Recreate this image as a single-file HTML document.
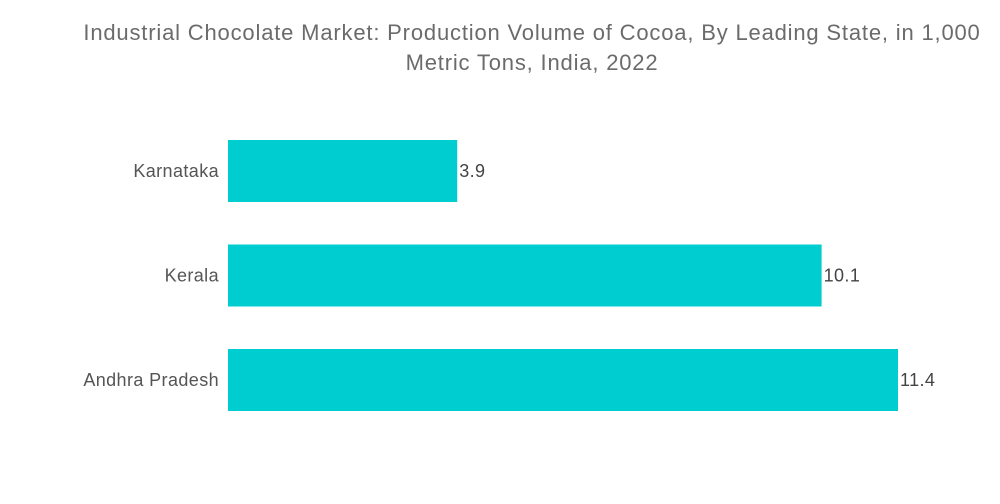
<!DOCTYPE html>
<html><head><meta charset="utf-8"><style>
body{margin:0;background:#fff;width:1000px;height:504px;overflow:hidden;font-family:"Liberation Sans",sans-serif;}
.title{position:absolute;left:32px;width:1000px;top:18px;text-align:center;font-size:22px;letter-spacing:0.82px;line-height:30px;color:#6b6b6b;}
</style></head><body>
<div class="title">Industrial Chocolate Market: Production Volume of Cocoa, By Leading State, in 1,000<br>Metric Tons, India, 2022</div>
<svg id="chart" width="1000" height="504" style="position:absolute;left:0;top:0"></svg>
<script>
const categories=["Karnataka","Kerala","Andhra Pradesh"];
const values=[3.9,10.1,11.4];
const labels=["3.9","10.1","11.4"];
const svg=document.getElementById('chart');
const NS='http://www.w3.org/2000/svg';
const x0=228, pxPerUnit=670/11.4;
const xScale=v=>x0+v*pxPerUnit;
const bh=62;
const yScale=i=>140+i*104.5;
categories.forEach((c,i)=>{
  const y=yScale(i);
  const r=document.createElementNS(NS,'rect');
  r.setAttribute('x',x0);r.setAttribute('y',y);r.setAttribute('width',xScale(values[i])-x0);r.setAttribute('height',bh);r.setAttribute('fill','#00cdd0');
  
  
  svg.appendChild(r);
  const t=document.createElementNS(NS,'text');
  t.setAttribute('x',219);t.setAttribute('y',y+bh/2+6);t.setAttribute('text-anchor','end');t.setAttribute('font-size','18');t.setAttribute('letter-spacing','0.4');t.setAttribute('fill','#555');t.setAttribute('font-family','Liberation Sans, sans-serif');
  t.textContent=c;
  
  
  svg.appendChild(t);
  const v=document.createElementNS(NS,'text');
  v.setAttribute('x',xScale(values[i])+2);v.setAttribute('y',y+bh/2+6);v.setAttribute('font-size','18');v.setAttribute('letter-spacing','0.4');v.setAttribute('fill','#444');v.setAttribute('font-family','Liberation Sans, sans-serif');
  v.textContent=labels[i];
  
  
  svg.appendChild(v);
});
</script>
</body></html>
